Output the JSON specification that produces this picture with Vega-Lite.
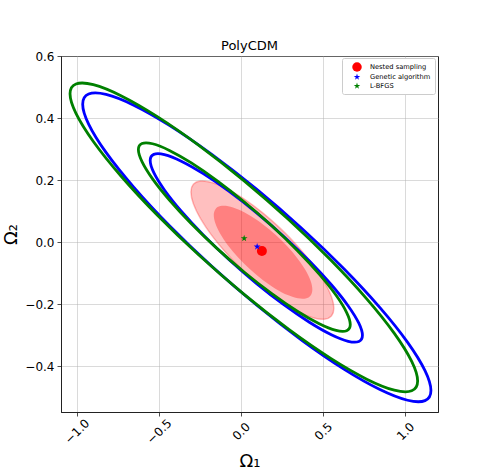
{
  "$schema": "https://vega.github.io/schema/vega-lite/v6.json",
  "width": 377,
  "height": 356,
  "autosize": {"type": "none"},
  "padding": {"left": 61, "top": 56, "right": 49, "bottom": 59},
  "background": "white",
  "title": {"text": "PolyCDM", "fontSize": 13, "font": "DejaVu Sans", "fontWeight": "normal", "color": "#000", "offset": -3, "anchor": "middle"},
  "datasets": {
    "ell": [
      {"g":"OB","i":0,"x":1.157,"y":-0.4786},{"g":"OB","i":1,"x":1.1209,"y":-0.4146},{"g":"OB","i":2,"x":1.015,"y":-0.3233},{"g":"OB","i":3,"x":0.8465,"y":-0.2113},{"g":"OB","i":4,"x":0.627,"y":-0.086},{"g":"OB","i":5,"x":0.3713,"y":0.0439},{"g":"OB","i":6,"x":0.097,"y":0.1698},{"g":"OB","i":7,"x":-0.1773,"y":0.2829},{"g":"OB","i":8,"x":-0.433,"y":0.3756},{"g":"OB","i":9,"x":-0.6525,"y":0.4415},{"g":"OB","i":10,"x":-0.821,"y":0.4761},{"g":"OB","i":11,"x":-0.9269,"y":0.4772},{"g":"OB","i":12,"x":-0.963,"y":0.4446},{"g":"OB","i":13,"x":-0.9269,"y":0.3806},{"g":"OB","i":14,"x":-0.821,"y":0.2893},{"g":"OB","i":15,"x":-0.6525,"y":0.1773},{"g":"OB","i":16,"x":-0.433,"y":0.052},{"g":"OB","i":17,"x":-0.1773,"y":-0.0779},{"g":"OB","i":18,"x":0.097,"y":-0.2038},{"g":"OB","i":19,"x":0.3713,"y":-0.3169},{"g":"OB","i":20,"x":0.627,"y":-0.4096},{"g":"OB","i":21,"x":0.8465,"y":-0.4755},{"g":"OB","i":22,"x":1.015,"y":-0.5101},{"g":"OB","i":23,"x":1.1209,"y":-0.5112},
      {"g":"OG","i":0,"x":1.076,"y":-0.4481},{"g":"OG","i":1,"x":1.0399,"y":-0.3849},{"g":"OG","i":2,"x":0.9342,"y":-0.2944},{"g":"OG","i":3,"x":0.7661,"y":-0.183},{"g":"OG","i":4,"x":0.547,"y":-0.058},{"g":"OG","i":5,"x":0.2918,"y":0.072},{"g":"OG","i":6,"x":0.018,"y":0.1981},{"g":"OG","i":7,"x":-0.2558,"y":0.3118},{"g":"OG","i":8,"x":-0.511,"y":0.4052},{"g":"OG","i":9,"x":-0.7301,"y":0.472},{"g":"OG","i":10,"x":-0.8982,"y":0.5076},{"g":"OG","i":11,"x":-1.0039,"y":0.5097},{"g":"OG","i":12,"x":-1.04,"y":0.4781},{"g":"OG","i":13,"x":-1.0039,"y":0.4149},{"g":"OG","i":14,"x":-0.8982,"y":0.3244},{"g":"OG","i":15,"x":-0.7301,"y":0.213},{"g":"OG","i":16,"x":-0.511,"y":0.088},{"g":"OG","i":17,"x":-0.2558,"y":-0.042},{"g":"OG","i":18,"x":0.018,"y":-0.1681},{"g":"OG","i":19,"x":0.2918,"y":-0.2818},{"g":"OG","i":20,"x":0.547,"y":-0.3752},{"g":"OG","i":21,"x":0.7661,"y":-0.442},{"g":"OG","i":22,"x":0.9342,"y":-0.4776},{"g":"OG","i":23,"x":1.0399,"y":-0.4797},
      {"g":"IB","i":0,"x":0.74,"y":-0.3008},{"g":"IB","i":1,"x":0.718,"y":-0.2617},{"g":"IB","i":2,"x":0.6534,"y":-0.206},{"g":"IB","i":3,"x":0.5508,"y":-0.1377},{"g":"IB","i":4,"x":0.417,"y":-0.0612},{"g":"IB","i":5,"x":0.2612,"y":0.0182},{"g":"IB","i":6,"x":0.094,"y":0.095},{"g":"IB","i":7,"x":-0.0732,"y":0.164},{"g":"IB","i":8,"x":-0.229,"y":0.2206},{"g":"IB","i":9,"x":-0.3628,"y":0.2609},{"g":"IB","i":10,"x":-0.4654,"y":0.282},{"g":"IB","i":11,"x":-0.53,"y":0.2827},{"g":"IB","i":12,"x":-0.552,"y":0.2628},{"g":"IB","i":13,"x":-0.53,"y":0.2237},{"g":"IB","i":14,"x":-0.4654,"y":0.168},{"g":"IB","i":15,"x":-0.3628,"y":0.0997},{"g":"IB","i":16,"x":-0.229,"y":0.0232},{"g":"IB","i":17,"x":-0.0732,"y":-0.0562},{"g":"IB","i":18,"x":0.094,"y":-0.133},{"g":"IB","i":19,"x":0.2612,"y":-0.202},{"g":"IB","i":20,"x":0.417,"y":-0.2586},{"g":"IB","i":21,"x":0.5508,"y":-0.2989},{"g":"IB","i":22,"x":0.6534,"y":-0.32},{"g":"IB","i":23,"x":0.718,"y":-0.3207},
      {"g":"IG","i":0,"x":0.666,"y":-0.2661},{"g":"IG","i":1,"x":0.644,"y":-0.2272},{"g":"IG","i":2,"x":0.5796,"y":-0.1716},{"g":"IG","i":3,"x":0.4771,"y":-0.1034},{"g":"IG","i":4,"x":0.3435,"y":-0.027},{"g":"IG","i":5,"x":0.1879,"y":0.0524},{"g":"IG","i":6,"x":0.021,"y":0.1293},{"g":"IG","i":7,"x":-0.1459,"y":0.1984},{"g":"IG","i":8,"x":-0.3015,"y":0.2552},{"g":"IG","i":9,"x":-0.4351,"y":0.2956},{"g":"IG","i":10,"x":-0.5376,"y":0.317},{"g":"IG","i":11,"x":-0.602,"y":0.3178},{"g":"IG","i":12,"x":-0.624,"y":0.2981},{"g":"IG","i":13,"x":-0.602,"y":0.2592},{"g":"IG","i":14,"x":-0.5376,"y":0.2036},{"g":"IG","i":15,"x":-0.4351,"y":0.1354},{"g":"IG","i":16,"x":-0.3015,"y":0.059},{"g":"IG","i":17,"x":-0.1459,"y":-0.0204},{"g":"IG","i":18,"x":0.021,"y":-0.0973},{"g":"IG","i":19,"x":0.1879,"y":-0.1664},{"g":"IG","i":20,"x":0.3435,"y":-0.2232},{"g":"IG","i":21,"x":0.4771,"y":-0.2636},{"g":"IG","i":22,"x":0.5796,"y":-0.285},{"g":"IG","i":23,"x":0.644,"y":-0.2858},
      {"g":"RL","i":0,"x":0.566,"y":-0.2133},{"g":"RL","i":1,"x":0.5512,"y":-0.1756},{"g":"RL","i":2,"x":0.5077,"y":-0.1277},{"g":"RL","i":3,"x":0.4386,"y":-0.0728},{"g":"RL","i":4,"x":0.3485,"y":-0.0149},{"g":"RL","i":5,"x":0.2436,"y":0.0424},{"g":"RL","i":6,"x":0.131,"y":0.095},{"g":"RL","i":7,"x":0.0184,"y":0.1394},{"g":"RL","i":8,"x":-0.0865,"y":0.1725},{"g":"RL","i":9,"x":-0.1766,"y":0.192},{"g":"RL","i":10,"x":-0.2457,"y":0.1967},{"g":"RL","i":11,"x":-0.2892,"y":0.1862},{"g":"RL","i":12,"x":-0.304,"y":0.1613},{"g":"RL","i":13,"x":-0.2892,"y":0.1236},{"g":"RL","i":14,"x":-0.2457,"y":0.0757},{"g":"RL","i":15,"x":-0.1766,"y":0.0208},{"g":"RL","i":16,"x":-0.0865,"y":-0.0371},{"g":"RL","i":17,"x":0.0184,"y":-0.0944},{"g":"RL","i":18,"x":0.131,"y":-0.147},{"g":"RL","i":19,"x":0.2436,"y":-0.1914},{"g":"RL","i":20,"x":0.3485,"y":-0.2245},{"g":"RL","i":21,"x":0.4386,"y":-0.244},{"g":"RL","i":22,"x":0.5077,"y":-0.2487},{"g":"RL","i":23,"x":0.5512,"y":-0.2382},
      {"g":"RD","i":0,"x":0.435,"y":-0.153},{"g":"RD","i":1,"x":0.4248,"y":-0.1256},{"g":"RD","i":2,"x":0.3948,"y":-0.0919},{"g":"RD","i":3,"x":0.3471,"y":-0.0543},{"g":"RD","i":4,"x":0.285,"y":-0.0151},{"g":"RD","i":5,"x":0.2126,"y":0.0228},{"g":"RD","i":6,"x":0.135,"y":0.057},{"g":"RD","i":7,"x":0.0574,"y":0.085},{"g":"RD","i":8,"x":-0.015,"y":0.1049},{"g":"RD","i":9,"x":-0.0771,"y":0.1155},{"g":"RD","i":10,"x":-0.1248,"y":0.1159},{"g":"RD","i":11,"x":-0.1548,"y":0.1062},{"g":"RD","i":12,"x":-0.165,"y":0.087},{"g":"RD","i":13,"x":-0.1548,"y":0.0596},{"g":"RD","i":14,"x":-0.1248,"y":0.0259},{"g":"RD","i":15,"x":-0.0771,"y":-0.0117},{"g":"RD","i":16,"x":-0.015,"y":-0.0509},{"g":"RD","i":17,"x":0.0574,"y":-0.0888},{"g":"RD","i":18,"x":0.135,"y":-0.123},{"g":"RD","i":19,"x":0.2126,"y":-0.151},{"g":"RD","i":20,"x":0.285,"y":-0.1709},{"g":"RD","i":21,"x":0.3471,"y":-0.1815},{"g":"RD","i":22,"x":0.3948,"y":-0.1819},{"g":"RD","i":23,"x":0.4248,"y":-0.1722}
    ],
    "pts": [
      {"m":"Nested sampling","x":0.128,"y":-0.029},
      {"m":"Genetic algorithm","x":0.099,"y":-0.015},
      {"m":"L-BFGS","x":0.02,"y":0.012}
    ]
  },
  "encoding": {
    "x": {"field": "x", "type": "quantitative",
      "scale": {"domain": [-1.095, 1.2], "nice": false, "zero": false},
      "axis": {"values": [-1, -0.5, 0, 0.5, 1], "format": ".1f", "title": "Ω₁", "labelAngle": -45, "labelAlign": "center", "labelBaseline": "middle", "labelPadding": 15, "titlePadding": 7}},
    "y": {"field": "y", "type": "quantitative",
      "scale": {"domain": [-0.548, 0.6], "nice": false, "zero": false},
      "axis": {"values": [-0.4, -0.2, 0, 0.2, 0.4, 0.6], "format": ".1f", "title": "Ω₂", "labelPadding": 3, "titlePadding": 4}}
  },
  "layer": [
    {"data": {"name": "ell"}, "transform": [{"filter": "datum.g === 'RL'"}],
     "mark": {"type": "line", "interpolate": "cardinal-closed", "fill": "#ff0000", "fillOpacity": 0.25, "stroke": "#ff0000", "strokeOpacity": 0.25, "strokeWidth": 1.5},
     "encoding": {"order": {"field": "i", "type": "quantitative"}}},
    {"data": {"name": "ell"}, "transform": [{"filter": "datum.g === 'RD'"}],
     "mark": {"type": "line", "interpolate": "cardinal-closed", "fill": "#ff0000", "fillOpacity": 0.33, "strokeWidth": 0},
     "encoding": {"order": {"field": "i", "type": "quantitative"}}},
    {"data": {"name": "ell"}, "transform": [{"filter": "datum.g === 'OB' || datum.g === 'IB'"}],
     "mark": {"type": "line", "interpolate": "cardinal-closed", "stroke": "#0000ff", "strokeWidth": 2.8},
     "encoding": {"detail": {"field": "g"}, "order": {"field": "i", "type": "quantitative"}}},
    {"data": {"name": "ell"}, "transform": [{"filter": "datum.g === 'OG' || datum.g === 'IG'"}],
     "mark": {"type": "line", "interpolate": "cardinal-closed", "stroke": "#008000", "strokeWidth": 2.8},
     "encoding": {"detail": {"field": "g"}, "order": {"field": "i", "type": "quantitative"}}},
    {"data": {"name": "pts"},
     "mark": {"type": "point", "filled": true, "size": 100, "opacity": 1, "strokeWidth": 0},
     "encoding": {
       "color": {"field": "m", "type": "nominal",
         "scale": {"domain": ["Nested sampling", "Genetic algorithm", "L-BFGS"], "range": ["#ff0000", "#0000ff", "#008000"]},
         "legend": {"title": null, "orient": "none", "legendX": 281, "legendY": 2}},
       "shape": {"field": "m", "type": "nominal",
         "scale": {"domain": ["Nested sampling", "Genetic algorithm", "L-BFGS"], "range": ["circle", "M0,-0.72L0.1616,-0.2225L0.6848,-0.2225L0.2616,0.085L0.4232,0.5825L0,0.275L-0.4232,0.5825L-0.2616,0.085L-0.6848,-0.2225L-0.1616,-0.2225Z", "M0,-0.72L0.1616,-0.2225L0.6848,-0.2225L0.2616,0.085L0.4232,0.5825L0,0.275L-0.4232,0.5825L-0.2616,0.085L-0.6848,-0.2225L-0.1616,-0.2225Z"]},
         "legend": {"title": null, "orient": "none", "legendX": 281, "legendY": 2}},
       "order": {"field": "m", "sort": "descending"}
     }}
  ],
  "config": {
    "view": {"stroke": "#222", "strokeWidth": 1},
    "axis": {"grid": true, "gridColor": "#b0b0b0", "gridOpacity": 0.6, "gridWidth": 0.8,
      "domainColor": "#222", "domainWidth": 1, "tickColor": "#222", "tickSize": 4, "tickWidth": 0.8,
      "labelColor": "#000", "labelFont": "DejaVu Sans", "labelFontSize": 12,
      "titleFont": "DejaVu Sans", "titleFontWeight": "normal", "titleFontSize": 18, "titleColor": "#000"},
    "legend": {"labelFontSize": 6.7, "labelFont": "DejaVu Sans", "labelColor": "#000", "symbolSize": 90,
      "symbolStrokeWidth": 0, "symbolOpacity": 1, "rowPadding": 0, "padding": 4, "fillColor": "white",
      "strokeColor": "#cccccc", "cornerRadius": 2, "labelOffset": 8, "symbolOffset": 6}
  }
}
